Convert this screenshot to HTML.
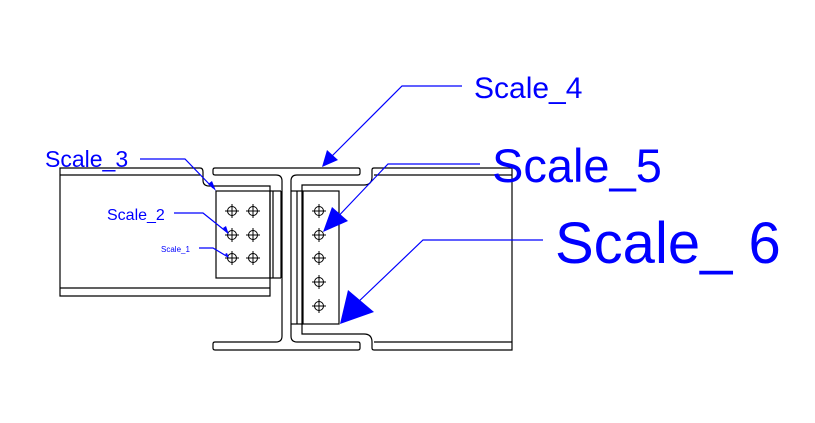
<!DOCTYPE html>
<html><head><meta charset="utf-8"><style>
html,body{margin:0;padding:0;background:#fff;}
svg{display:block;}
text{font-family:"Liberation Sans",Arial,sans-serif;fill:#0000ff;}
</style></head><body>
<svg width="815" height="423" viewBox="0 0 815 423" xmlns="http://www.w3.org/2000/svg">
<g fill="none" stroke="#000" stroke-width="1.2">
<path d="M60,296 V168 H200 Q203,168 203,172 V180 Q203,186 209,186 H270 V296 Z"/>
<line x1="60" y1="175" x2="200" y2="175"/>
<line x1="60" y1="288" x2="270" y2="288"/>
<rect x="216" y="191" width="54" height="87"/>
<line x1="273" y1="191" x2="273" y2="278"/>
<line x1="281" y1="191" x2="281" y2="278"/>
<line x1="270" y1="191" x2="281" y2="191"/>
<line x1="270" y1="278" x2="281" y2="278"/>
<path d="M215,168 H358 Q360,168 360,170 V173 Q360,175 358,175 H297 Q291,175 291,181 V336 Q291,342 297,342 H358 Q360,342 360,344 V348 Q360,350 358,350 H215 Q213,350 213,348 V344 Q213,342 215,342 H276 Q282,342 282,336 V181 Q282,175 276,175 H215 Q213,175 213,173 V170 Q213,168 215,168 Z"/>
<path d="M374,168 H512 V350 H374 Q372,350 372,348 V342 Q372,334 364,334 H302 V185 H364 Q372,185 372,177 V170 Q372,168 374,168 Z"/>
<line x1="374" y1="175" x2="512" y2="175"/>
<line x1="374" y1="342" x2="512" y2="342"/>
<rect x="303" y="191" width="36" height="133"/>
<line x1="297" y1="191" x2="297" y2="324"/>
<line x1="291" y1="191" x2="303" y2="191"/>
<line x1="291" y1="324" x2="303" y2="324"/>
</g>
<g fill="none" stroke="#000" stroke-width="1">
<defs><g id="b"><circle r="4.5"/><line x1="-7" y1="0" x2="7" y2="0"/><line x1="0" y1="-7" x2="0" y2="7"/></g></defs>
<use href="#b" x="232" y="211"/><use href="#b" x="253" y="211"/>
<use href="#b" x="232" y="235"/><use href="#b" x="253" y="235"/>
<use href="#b" x="232" y="258"/><use href="#b" x="253" y="258"/>
<use href="#b" x="319" y="211"/><use href="#b" x="319" y="235"/><use href="#b" x="319" y="258"/><use href="#b" x="319" y="282"/><use href="#b" x="319" y="306"/>
</g>
<g stroke="#0000ff" stroke-width="1.2" fill="none">
<polyline points="462,86 402,86 330,158"/>
<polyline points="480,164 388,164 330,225"/>
<polyline points="543,240 423,240 355,305"/>
<polyline points="140,159 185,159 213,188"/>
<polyline points="174,213 203,213 228,233"/>
<polyline points="199,248 213,248 228,257"/>
</g>
<g fill="#0000ff">
<polygon points="322,167 327,150 338,160"/>
<polygon points="323,232 332,207 348,221"/>
<polygon points="340,324 348,290 374,312"/>
<polygon points="216,191 208,184 212,181"/>
<polygon points="229,235 223,228 226,226"/>
<polygon points="229,258 225,254 227,253"/>
</g>
<text x="474" y="98" font-size="30">Scale_4</text>
<text x="492" y="182" font-size="47">Scale_5</text>
<text x="555" y="263" font-size="58">Scale_ 6</text>
<text x="45" y="167" font-size="23">Scale_3</text>
<text x="107" y="220" font-size="16">Scale_2</text>
<text x="161" y="252" font-size="8">Scale_1</text>
</svg>
</body></html>
